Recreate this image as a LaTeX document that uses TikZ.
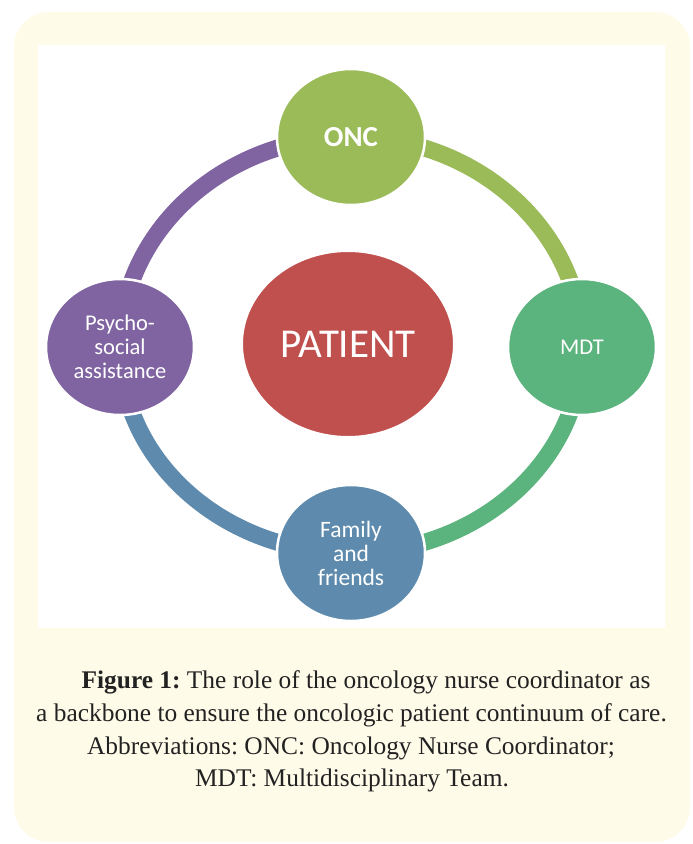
\documentclass[tikz,border=0pt]{standalone}
\usepackage{fontspec}
\setmainfont{Liberation Serif}
\newfontfamily\calib{Carlito}
\usetikzlibrary{shapes.geometric,backgrounds}
\definecolor{cream}{HTML}{FFFBE9}
\definecolor{oncc}{HTML}{9BBB59}
\definecolor{mdtc}{HTML}{5BB37D}
\definecolor{famc}{HTML}{5E8BAD}
\definecolor{psyc}{HTML}{8064A2}
\definecolor{patc}{HTML}{C0504D}
\definecolor{captc}{HTML}{222222}
\frenchspacing
\begin{document}
\begin{tikzpicture}[x=1pt,y=-1pt,
  blob/.style={ellipse, minimum width=148pt, minimum height=136pt, inner sep=0pt,
    draw=white, line width=2.5pt, text=white, align=center,
    font=\calib\fontsize{22.5}{24}\selectfont},
  ringarc/.style={line width=17pt, line cap=butt},
  capline/.style={anchor=base, text=captc, font=\fontsize{25.4}{30}\selectfont, inner sep=0pt}]
\useasboundingbox (0,0) rectangle (693,844);
% nodes
\node[blob, fill=oncc, font=\calib\bfseries\fontsize{29}{30}\selectfont] (onc) at (351,137) {ONC};
\node[blob, fill=mdtc] (mdt) at (582,347) {MDT};
\node[blob, fill=famc, font=\calib\fontsize{23.5}{24}\selectfont] (fam) at (351,553) {Family\\and\\friends};
\node[blob, fill=psyc] (psy) at (120,347) {Psycho-\\social\\assistance};
\node[ellipse, fill=patc, draw=white, line width=2pt, minimum width=212pt, minimum height=186pt,
  inner sep=0pt, text=white, font=\calib\fontsize{41}{42}\selectfont] (pat) at (348,344) {PATIENT};
% captions
\node[capline] (cap1) at (366,688) {\textbf{Figure 1:} The role of the oncology nurse coordinator as};
\node[capline] (cap2) at (351.5,721) {a backbone to ensure the oncologic patient continuum of care.};
\node[capline] (cap3) at (351,754) {Abbreviations: ONC: Oncology Nurse Coordinator;};
\node[capline] (cap4) at (352,786) {MDT: Multidisciplinary Team.};
\begin{pgfonlayer}{background}
\fill[white] (0,0) rectangle (693,844);
\fill[cream, rounded corners=35pt] (14,12) rectangle (690,842);
\fill[white] (38,45) rectangle (665,628);
% ring arcs (quarter ellipses through node centres)
\draw[ringarc, psyc] (psy.center) .. controls +(0,-115) and +(-127,0) .. (onc.center);
\draw[ringarc, oncc] (onc.center) .. controls +(127,0) and +(0,-115) .. (mdt.center);
\draw[ringarc, mdtc] (mdt.center) .. controls +(0,114) and +(127,0) .. (fam.center);
\draw[ringarc, famc] (fam.center) .. controls +(-127,0) and +(0,114) .. (psy.center);
\end{pgfonlayer}
\end{tikzpicture}
\end{document}
